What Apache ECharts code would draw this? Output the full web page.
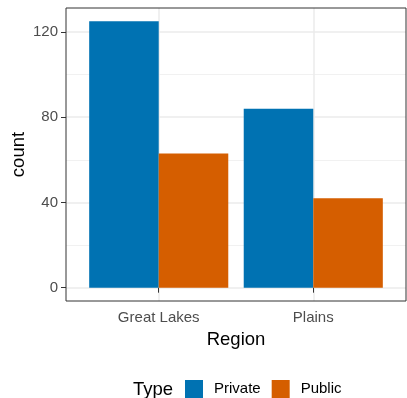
<!DOCTYPE html>
<html>
<head>
<meta charset="utf-8">
<script src="https://cdn.jsdelivr.net/npm/echarts@6/dist/echarts.min.js"></script>
<style>
html,body{margin:0;padding:0;background:#fff;}
#chart{width:407px;height:398px;}
</style>
</head>
<body>
<div id="chart"></div>
<script>
const categories = ['Great Lakes', 'Plains'];
const seriesNames = ['Private', 'Public'];
const privateCounts = [125, 84];
const publicCounts = [63, 42];
const yMajorTicks = [0, 40, 80, 120];
const yMinorTicks = [20, 60, 100];

const FONT = 'Liberation Sans, Arial, sans-serif';
const gridLeft = 66, gridTop = 8, gridWidth = 340, gridHeight = 293;
const xMin = 0.4, xMax = categories.length + 0.6;
const unitPx = gridWidth / (xMax - xMin);
const barW = 0.45 * unitPx;
const yMin = -6.25, yMax = 131.25;

const chart = echarts.init(document.getElementById('chart'), null, {renderer: 'canvas'});
const xPos = categories.map((c, i) => i + 1);

chart.setOption({
  animation: false,
  backgroundColor: '#ffffff',
  grid: {left: gridLeft, top: gridTop, width: gridWidth, height: gridHeight,
         containLabel: false, outerBoundsMode: 'none',
         show: true, borderColor: '#333333', borderWidth: 1, backgroundColor: 'transparent', z: 10},
  xAxis: {
    type: 'value', min: xMin, max: xMax,
    axisLine: {show: false},
    axisTick: {show: true, length: 5, lineStyle: {color: '#333333', width: 1}, customValues: xPos},
    axisLabel: {customValues: xPos, color: '#4D4D4D', fontSize: 15, fontFamily: FONT, margin: 9,
                formatter: v => categories[Math.round(v) - 1] || ''},
    splitLine: {show: true, lineStyle: {color: '#EBEBEB', width: 1.5}},
    name: 'Region', nameLocation: 'middle', nameGap: 29, nameMoveOverlap: false,
    nameTextStyle: {color: '#000', fontSize: 18.5, fontFamily: FONT}
  },
  yAxis: [{
    type: 'value', min: yMin, max: yMax,
    axisLine: {show: false},
    axisTick: {show: true, length: 5, lineStyle: {color: '#333333', width: 1}, customValues: yMajorTicks},
    axisLabel: {customValues: yMajorTicks, color: '#4D4D4D', fontSize: 15, fontFamily: FONT, margin: 8},
    splitLine: {show: true, lineStyle: {color: '#EBEBEB', width: 1.5}},
    name: 'count', nameLocation: 'middle', nameGap: 38, nameRotate: 90, nameMoveOverlap: false,
    nameTextStyle: {color: '#000', fontSize: 18.5, fontFamily: FONT}
  }, {
    type: 'value', min: yMin, max: yMax, position: 'left', offset: 0,
    axisLine: {show: false},
    axisTick: {show: false, customValues: yMinorTicks},
    axisLabel: {show: false, customValues: yMinorTicks},
    splitLine: {show: true, lineStyle: {color: '#F1F1F1', width: 1}}
  }],
  legend: {
    left: 185, top: 380, orient: 'horizontal', padding: 0,
    itemWidth: 18, itemHeight: 18, itemGap: 11,
    icon: 'rect',
    textStyle: {color: '#000', fontSize: 15, fontFamily: FONT, padding: [2, 0, 0, 6]},
    data: seriesNames
  },
  graphic: [{
    type: 'text', left: 133, top: 380,
    style: {text: 'Type', fontSize: 18.5, fontFamily: FONT, fill: '#000'}
  }],
  series: [{
    name: seriesNames[0], type: 'bar', barWidth: barW, barGap: '0%',
    itemStyle: {color: '#0072B2'},
    data: privateCounts.map((v, i) => [xPos[i], v])
  }, {
    name: seriesNames[1], type: 'bar', barWidth: barW, barGap: '0%',
    itemStyle: {color: '#D55E00'},
    data: publicCounts.map((v, i) => [xPos[i], v])
  }]
});
</script>
</body>
</html>
